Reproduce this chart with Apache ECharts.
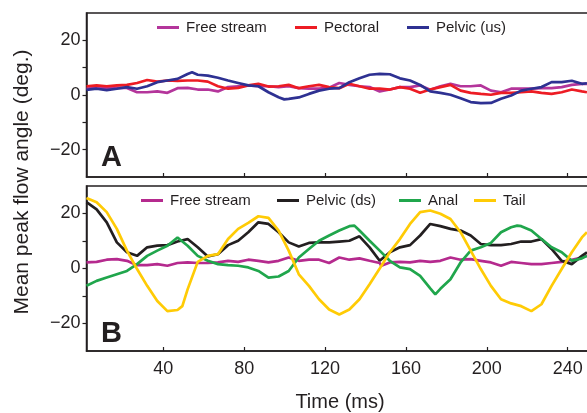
<!DOCTYPE html>
<html><head><meta charset="utf-8">
<script src="https://cdn.jsdelivr.net/npm/echarts@6/dist/echarts.min.js"></script>
<style>html,body{margin:0;padding:0;background:#fff}#c{width:587px;height:413px;overflow:hidden}</style>
</head><body><div id="c"></div>
<script>
// shared sample times (ms)
const time = [2,7,12,17,22,27,32,37,42,47,52,57,62,67,72,77,82,87,92,97,102,107,112,117,122,127,132,137,142,147,152,157,162,167,172,177,182,187,192,197,202,207,212,217,222,227,232,237,242,247,249.5];

// Panel A
const aFree   = [2.3,2.6,2.6,2.7,2.6,1.0,1.0,1.3,0.8,2.5,2.6,2.0,2.0,1.3,2.9,3.2,3.5,3.2,3.2,2.9,3.2,2.5,2.3,2.3,2.7,4.4,3.7,3.2,2.9,1.3,2.0,2.9,2.9,3.5,1.9,3.2,4.1,3.2,3.2,3.5,1.6,1.0,2.3,2.3,2.3,2.5,2.5,2.9,3.7,4.1,4.1];
const aPect   = [3.2,3.5,3.2,3.5,3.7,4.4,5.5,4.9,5.3,5.2,5.3,5.3,4.9,3.2,2.3,2.6,3.5,4.1,3.1,3.2,3.7,2.5,3.2,3.7,2.9,2.5,4.1,3.2,2.3,2.3,2.0,2.9,2.3,0.8,2.0,2.9,3.7,1.6,0.8,0.4,0.1,0.8,0.8,1.0,1.3,0.8,0.4,1.0,2.0,1.3,1.0];
const aPelvic = [1.9,2.3,1.8,2.3,2.9,2.3,3.2,4.7,5.3,5.9,7.7,7.4,7.1,6.3,5.3,4.4,3.5,3.2,1.0,-0.8,-1.4,-0.9,0.4,1.6,2.3,2.5,4.7,6.1,7.4,7.7,7.6,6.1,5.3,3.7,1.3,0.8,0.1,-1.2,-2.6,-3.0,-2.9,-1.4,-0.2,1.6,2.3,2.9,4.7,4.7,5.2,4.1,4.3];
const aPelvicExtra = [[54.2,8.3],[99.8,-1.6]];

// Panel B
const bFree   = [2.2,2.4,3.2,3.4,2.8,1.2,1.2,1.6,1.0,2.0,2.2,2.0,2.0,2.2,2.8,2.4,3.2,2.8,2.2,2.8,4.0,2.8,3.2,3.2,2.0,4.0,3.2,3.7,2.8,2.0,2.2,2.4,2.2,2.8,2.4,2.8,4.0,3.2,3.4,2.8,2.2,1.0,2.4,2.0,1.6,1.6,2.0,2.4,3.2,4.0,4.6];
const bFreeExtra = [[147.8,1.0]];
const bPelvic = [24.1,21.5,16.8,9.5,5.9,4.6,7.7,8.3,8.5,9.8,10.7,7.7,4.4,5.2,8.5,10.1,13.2,16.8,16.2,13.2,9.5,8.0,9.3,9.5,9.5,9.8,10.1,11.7,7.7,2.8,5.9,7.7,8.5,12.0,16.2,15.4,14.4,13.8,12.0,8.9,8.5,8.5,8.9,9.8,9.8,10.7,7.1,2.8,1.6,4.6,5.9];
const bAnal   = [-6.3,-4.5,-3.3,-2.1,-0.9,1.6,4.6,6.5,8.3,11.3,8.3,4.6,2.8,1.6,1.2,1.0,0.4,-0.9,-3.3,-2.9,-0.9,4.0,7.1,10.1,12.0,13.8,15.4,13.8,10.1,6.5,2.8,0.4,-0.2,-2.7,-7.2,-7.4,-3.9,2.2,6.5,7.7,9.3,13.2,15.0,15.4,13.8,10.7,7.7,5.9,2.8,3.7,4.6];
const bAnalExtra = [[134.5,15.6],[174.5,-9.4],[215,15.6]];
const bTail   = [25.6,24.1,20.5,14.4,6.5,-0.2,-6.3,-11.8,-15.5,-15.1,-7.6,2.4,4.6,5.2,10.7,14.4,16.6,19.0,18.4,13.8,6.5,-2.1,-6.3,-11.2,-14.9,-16.7,-14.9,-11.2,-5.7,0,5.9,10.7,16.2,20.5,21.1,19.9,18.0,13.2,6.5,-0.2,-6.3,-11.2,-12.7,-13.7,-15.5,-13.0,-6.3,-0.2,5.9,11.3,13.2];
const bTailExtra = [[49.4,-13.7]];

const xTicks = [40,80,120,160,200,240];
const yTicks = [-20,-10,0,10,20];
const yLabels = [-20,0,20];

function pairs(vals, extra){
  const p = time.map((t,i)=>[t,vals[i]]);
  (extra||[]).forEach(e=>p.push(e));
  p.sort((a,b)=>a[0]-b[0]);
  return p;
}
const INK = '#231f20';
const FONT = 'Liberation Sans, Arial, Helvetica, sans-serif';
const fmt = v => v < 0 ? '\u2212' + Math.abs(v) : String(v);

function xAx(i){
  return {type:'value', gridIndex:i, min:2, max:256,
    axisLine:{show:true,onZero:false,lineStyle:{color:INK,width:1.5}},
    axisTick:{show:true,inside:true,length:4,customValues:xTicks,lineStyle:{color:INK,width:1.2}},
    axisLabel:{show:i===1,customValues:xTicks,fontSize:18,color:INK,margin:9,fontFamily:FONT},
    splitLine:{show:false}};
}
function yAx(i){
  return {type:'value', gridIndex:i, min:-30, max:30,
    axisLine:{show:true,onZero:false,lineStyle:{color:INK,width:1.5}},
    axisTick:{show:true,inside:false,length:4,customValues:yTicks,lineStyle:{color:INK,width:1.2}},
    axisLabel:{show:true,customValues:yLabels,formatter:fmt,fontSize:18,color:INK,margin:6,fontFamily:FONT},
    splitLine:{show:false}};
}
function line(name,data,color,xi){
  return {type:'line',name:name,data:data,xAxisIndex:xi,yAxisIndex:xi,showSymbol:false,symbol:'none',
    lineStyle:{color:color,width:2.7},itemStyle:{color:color},animation:false,z:3};
}
function leg(name,left,top){
  return {data:[name],left:left,top:top,itemWidth:22,itemHeight:3,icon:'rect',
    textStyle:{fontSize:15,color:INK,fontFamily:FONT,padding:[0,0,0,2]},padding:0,selectedMode:false,
    formatter: n => n.trim()};
}
const C = {mag:'#b4359b', magB:'#b52a8e', red:'#ed1c24', blue:'#2e3192', black:'#231f20', green:'#20a64c', yellow:'#ffcb05'};

const chart = echarts.init(document.getElementById('c'),null,{renderer:'canvas'});
chart.setOption({
  animation:false,
  backgroundColor:'#fff',
  grid:[
    {left:86.5,top:13,height:164,width:513.6,containLabel:false,outerBoundsMode:'none',show:true,borderColor:INK,borderWidth:1.5},
    {left:86.5,top:186,height:165,width:513.6,containLabel:false,outerBoundsMode:'none',show:true,borderColor:INK,borderWidth:1.5}
  ],
  xAxis:[xAx(0),xAx(1)],
  yAxis:[yAx(0),yAx(1)],
  legend:[
    leg('Free stream',157,20), leg('Pectoral',295,20), leg('Pelvic (us)',407,20),
    leg('Free stream ',141,193), leg('Pelvic (ds)',277,193), leg('Anal',399,193), leg('Tail',474,193)
  ],
  series:[
    line('Free stream',pairs(aFree),C.mag,0),
    line('Pectoral',pairs(aPect),C.red,0),
    line('Pelvic (us)',pairs(aPelvic,aPelvicExtra),C.blue,0),
    line('Free stream ',pairs(bFree,bFreeExtra),C.magB,1),
    line('Pelvic (ds)',pairs(bPelvic),C.black,1),
    line('Anal',pairs(bAnal,bAnalExtra),C.green,1),
    line('Tail',pairs(bTail,bTailExtra),C.yellow,1)
  ],
  graphic:[
    {type:'text',left:101,top:143,style:{text:'A',fontSize:29,fontWeight:'bold',fill:INK,fontFamily:FONT}},
    {type:'text',left:101,top:319,style:{text:'B',fontSize:29,fontWeight:'bold',fill:INK,fontFamily:FONT}},
    {type:'text',x:340,y:402,style:{text:'Time (ms)',fontSize:20,fill:INK,fontFamily:FONT,align:'center',verticalAlign:'middle'}},
    {type:'text',x:22,y:182,rotation:Math.PI/2,style:{text:'Mean peak flow angle (deg.)',fontSize:21,fill:INK,fontFamily:FONT,align:'center',verticalAlign:'middle'}}
  ]
});
</script></body></html>
